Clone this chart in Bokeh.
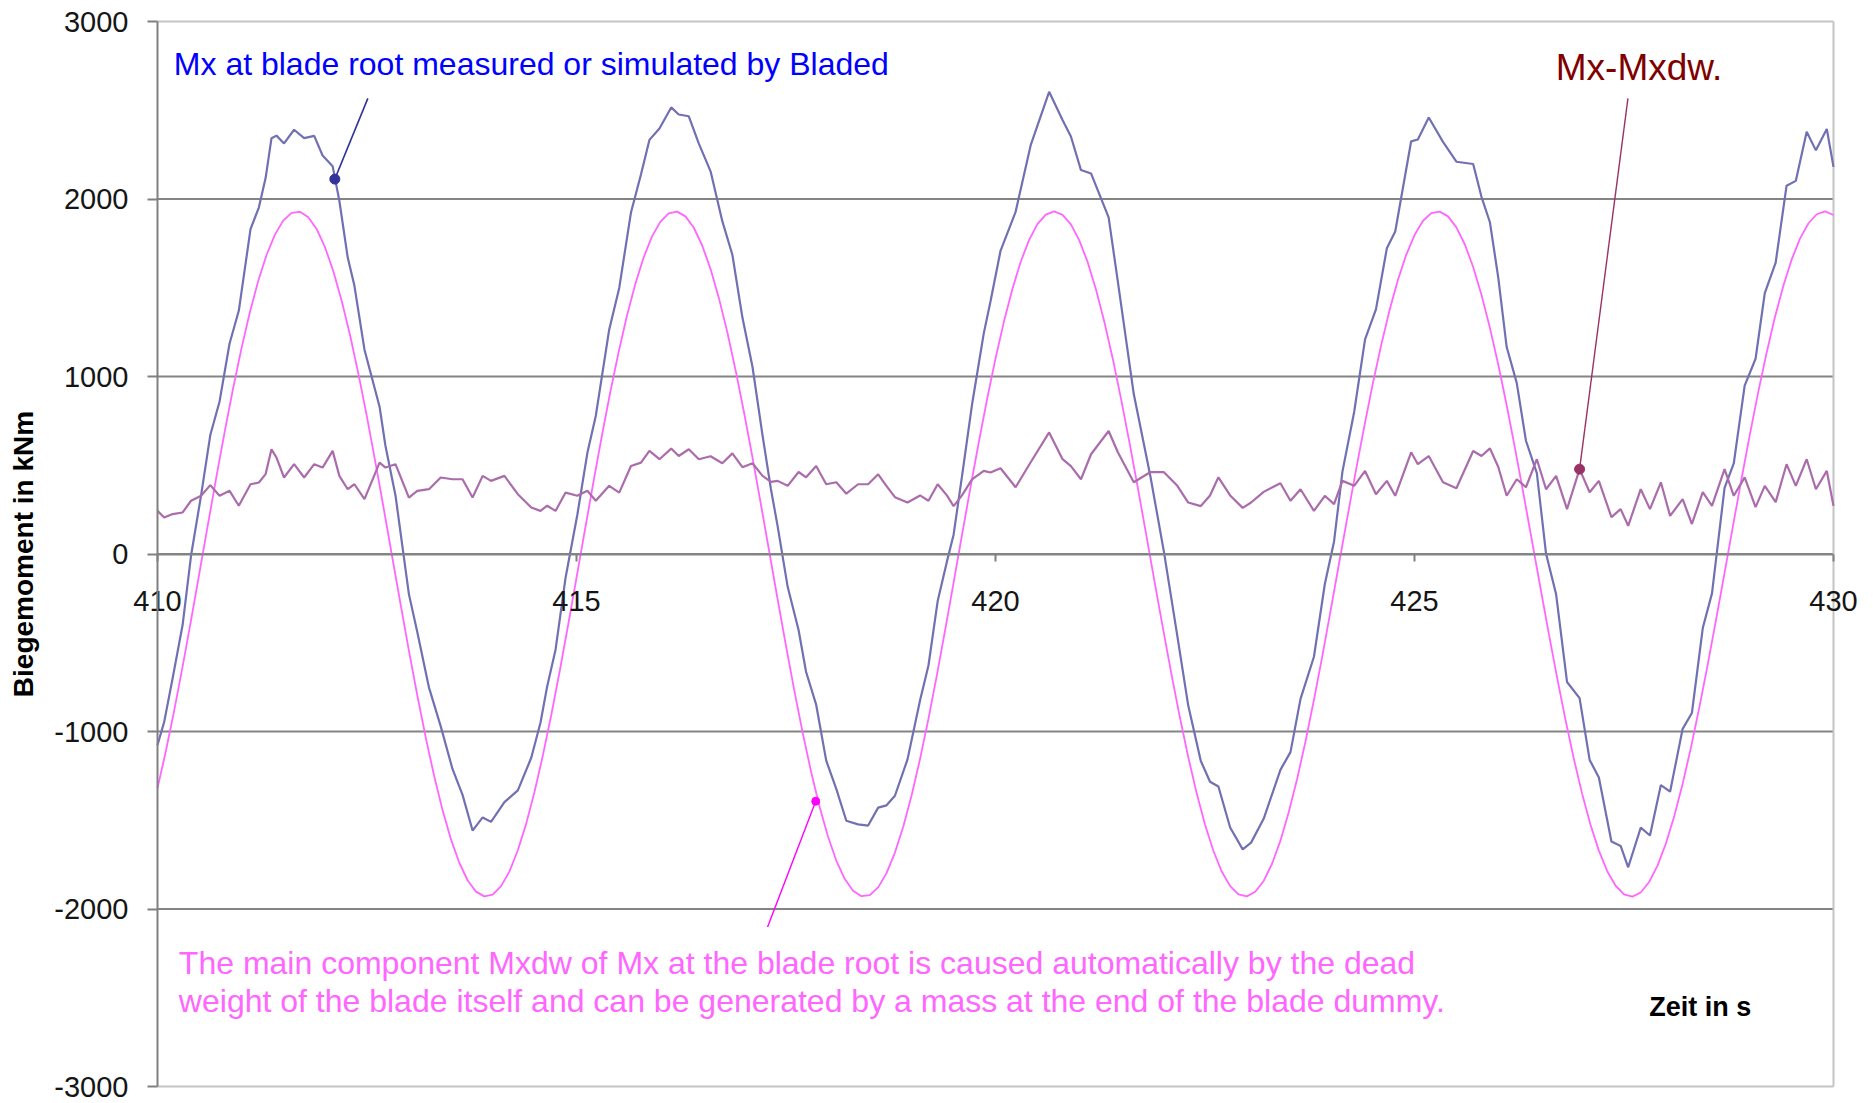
import math
from bokeh.plotting import figure
from bokeh.models import FixedTicker, Label, Range1d
from bokeh.embed import file_html
from bokeh.resources import INLINE

# ---------------- data ----------------
X_MIN, X_MAX = 410, 430
Y_MIN, Y_MAX = -3000, 3000
X_TICKS = [410, 415, 420, 425, 430]
Y_TICKS = [-3000, -2000, -1000, 0, 1000, 2000, 3000]
GRID_TICKS = [-2000, -1000, 0, 1000, 2000]

# Mxdw (dead-weight component), sampled every 0.1 s from 410 s
MXDW_T0 = 410.0
MXDW_DT = 0.1
mxdw = [
    -1319, -1110, -880, -633, -374, -107, 161, 427, 684, 928,
    1154, 1358, 1535, 1683, 1798, 1878, 1922, 1928, 1897, 1830,
    1727, 1590, 1423, 1228, 1009, 771, 518, 255, -14, -281,
    -544, -796, -1032, -1248, -1440, -1605, -1738, -1838, -1902, -1929,
    -1919, -1871, -1788, -1669, -1519, -1338, -1132, -904, -659, -400,
    -134, 134, 400, 659, 904, 1132, 1338, 1518, 1669, 1788,
    1871, 1919, 1929, 1902, 1838, 1738, 1605, 1440, 1249, 1032,
    796, 544, 281, 14, -255, -518, -771, -1009, -1228, -1423,
    -1590, -1727, -1830, -1897, -1928, -1922, -1878, -1798, -1682, -1535,
    -1358, -1154, -928, -684, -426, -161, 107, 371, 628, 873,
    1101, 1308, 1490, 1645, 1768, 1858, 1912, 1930, 1911, 1857,
    1767, 1644, 1489, 1306, 1099, 870, 625, 369, 105, -161,
    -423, -678, -920, -1144, -1347, -1524, -1672, -1789, -1871, -1918,
    -1929, -1903, -1842, -1745, -1615, -1454, -1266, -1054, -822, -575,
    -316, -52, 209, 468, 717, 954, 1172, 1369, 1541, 1684,
    1797, 1876, 1920, 1929, 1902, 1840, 1745, 1617, 1459, 1274,
    1066, 838, 594, 340, 79, -183, -442, -692, -930, -1151,
    -1350, -1525, -1671, -1787, -1869, -1917, -1930, -1907, -1848, -1756,
    -1631, -1476, -1294, -1088, -862, -620, -366, -106, 157, 417,
    668, 908, 1130, 1332, 1509, 1658, 1777, 1862, 1914, 1930, 1910,
]
mxdw_t = [round(MXDW_T0 + i * MXDW_DT, 2) for i in range(len(mxdw))]

# times of the readings of Mx and Mx-Mxdw
diff_t = [
    410.00, 410.08, 410.18, 410.30, 410.40, 410.52, 410.63, 410.74, 410.86, 410.97,
    411.11, 411.21, 411.29, 411.36, 411.42, 411.51, 411.63, 411.75, 411.87, 411.97,
    412.09, 412.17, 412.27, 412.35, 412.47, 412.65, 412.72, 412.84, 413.00, 413.10,
    413.24, 413.38, 413.52, 413.64, 413.76, 413.88, 413.98, 414.14, 414.30, 414.46,
    414.57, 414.65, 414.75, 414.87, 415.01, 415.13, 415.23, 415.39, 415.51, 415.65,
    415.77, 415.87, 415.99, 416.13, 416.22, 416.34, 416.46, 416.60, 416.74, 416.86,
    416.98, 417.10, 417.22, 417.32, 417.40, 417.52, 417.65, 417.74, 417.86, 417.98,
    418.10, 418.22, 418.36, 418.48, 418.60, 418.70, 418.80, 418.95, 419.10, 419.20,
    419.31, 419.42, 419.50, 419.60, 419.72, 419.86, 419.94, 420.06, 420.24, 420.42,
    420.64, 420.80, 420.90, 421.02, 421.14, 421.35, 421.46, 421.65, 421.85, 422.01,
    422.17, 422.30, 422.45, 422.56, 422.66, 422.80, 422.95, 423.05, 423.20, 423.40,
    423.52, 423.64, 423.80, 423.93, 424.04, 424.14, 424.28, 424.41, 424.54, 424.67,
    424.77, 424.96, 425.04, 425.17, 425.34, 425.50, 425.70, 425.80, 425.90, 426.00,
    426.10, 426.22, 426.33, 426.46, 426.57, 426.69, 426.82, 426.97, 427.09, 427.20,
    427.35, 427.46, 427.55, 427.70, 427.81, 427.94, 428.05, 428.20, 428.31, 428.44,
    428.55, 428.70, 428.81, 428.94, 429.07, 429.18, 429.31, 429.44, 429.55, 429.68,
    429.79, 429.92, 430.00,
]

# Mx - Mxdw
diff_v = [
    243, 206, 225, 234, 300, 328, 388, 328, 356, 272,
    393, 403, 450, 590, 543, 431, 506, 431, 506, 487,
    581, 440, 365, 393, 309, 515, 487, 506, 318, 356,
    365, 431, 421, 421, 318, 440, 412, 440, 337, 262,
    243, 272, 243, 346, 328, 356, 300, 384, 346, 496,
    515, 581, 534, 594, 552, 590, 534, 551, 511, 567,
    489, 511, 440, 406, 412, 384, 462, 432, 496, 393,
    404, 340, 393, 393, 449, 382, 320, 290, 330, 300,
    393, 330, 270, 330, 420, 468, 459, 483, 376, 517,
    685, 534, 495, 421, 562, 693, 573, 404, 462, 461,
    384, 290, 270, 330, 432, 330, 260, 290, 350, 399,
    300, 365, 243, 328, 281, 412, 384, 468, 337, 412,
    328, 573, 506, 552, 404, 370, 580, 552, 595, 490,
    328, 421, 376, 534, 365, 440, 253, 478, 348, 412,
    208, 253, 159, 365, 253, 404, 215, 309, 169, 348,
    271, 478, 328, 432, 264, 384, 292, 506, 384, 534,
    365, 468, 271,
]

# Mx at blade root
mx = [
    -1076, -946, -701, -399, -10, 330, 670, 858, 1186, 1370,
    1830, 1953, 2118, 2342, 2357, 2313, 2390, 2343, 2356, 2245,
    2185, 1990, 1670, 1511, 1151, 830, 610, 330, -226, -440,
    -753, -971, -1211, -1357, -1558, -1484, -1509, -1398, -1332, -1148,
    -951, -746, -539, -132, 221, 570, 778, 1264, 1499, 1924,
    2139, 2333, 2397, 2516, 2476, 2466, 2312, 2156, 1875, 1686,
    1332, 1055, 668, 366, 157, -185, -428, -665, -849, -1164,
    -1323, -1503, -1523, -1530, -1429, -1416, -1362, -1157, -824, -628,
    -265, -43, 109, 437, 842, 1243, 1423, 1708, 1928, 2303,
    2604, 2445, 2352, 2163, 2144, 1896, 1535, 901, 434, 12,
    -463, -854, -1166, -1283, -1310, -1541, -1664, -1626, -1492, -1216,
    -1116, -816, -579, -169, 71, 464, 800, 1209, 1378, 1722,
    1817, 2325, 2335, 2459, 2322, 2210, 2197, 2011, 1869, 1556,
    1166, 964, 638, 456, 1, -227, -721, -812, -1160, -1259,
    -1620, -1645, -1765, -1542, -1586, -1302, -1339, -985, -896, -417,
    -222, 372, 511, 949, 1100, 1470, 1642, 2075, 2102, 2379,
    2274, 2394, 2181,
]

# annotation anchor points (data coordinates)
mx_mark = (412.116, 2112)
mx_lead = (412.51, 2567)
diff_mark = (426.97, 478)
diff_lead = (427.547, 2567)
mxdw_mark = (417.855, -1393)
mxdw_lead = (417.28, -2101)

FONT = "Liberation Sans"

# ---------------- figure ----------------
# The frame covers the whole canvas; axes are placed at x=410 / y=0 so that
# nothing (tick labels, axis title) is clipped.
W, H = 1873, 1103
LEFT, TOP, PW, PH = 157, 21, 1676, 1065        # plot area in pixels
sx = (X_MAX - X_MIN) / PW
sy = (Y_MAX - Y_MIN) / PH
x_range = Range1d(X_MIN - LEFT * sx, X_MAX + (W - LEFT - PW) * sx)
y_range = Range1d(Y_MIN - (H - TOP - PH) * sy, Y_MAX + TOP * sy)

p = figure(width=W, height=H, x_range=x_range, y_range=y_range,
           output_backend="svg", toolbar_location=None,
           min_border=0, min_border_left=0, min_border_right=0,
           min_border_top=0, min_border_bottom=0)
p.background_fill_color = "white"
p.border_fill_color = "white"
p.outline_line_color = None
p.xgrid.visible = False
p.ygrid.visible = False

# horizontal grid lines limited to the plot area
p.segment(x0=[X_MIN] * len(GRID_TICKS), y0=GRID_TICKS,
          x1=[X_MAX] * len(GRID_TICKS), y1=GRID_TICKS,
          line_color="#848484", line_width=2)

# light border of the plot area (top, right, bottom)
p.segment(x0=[X_MIN, X_MAX, X_MIN], y0=[Y_MAX, Y_MIN, Y_MIN],
          x1=[X_MAX, X_MAX, X_MAX], y1=[Y_MAX, Y_MAX, Y_MIN],
          line_color="#c4c4c4", line_width=2)

# y axis at x = 410
ay = p.yaxis[0]
ay.fixed_location = X_MIN
ay.bounds = (Y_MIN, Y_MAX)
ay.ticker = FixedTicker(ticks=Y_TICKS)
ay.major_label_overrides = {v: str(v) for v in Y_TICKS}
ay.major_label_text_font = FONT
ay.major_label_text_font_size = "29px"
ay.major_label_text_color = "#151515"
ay.major_tick_out = 10
ay.major_tick_in = 0
ay.minor_tick_line_color = None
ay.major_tick_line_color = "#808080"
ay.major_tick_line_width = 2
ay.axis_line_color = "#808080"
ay.axis_line_width = 2
ay.major_label_standoff = 19

# x axis crossing at zero
ax = p.xaxis[0]
ax.fixed_location = 0
ax.bounds = (X_MIN, X_MAX)
ax.ticker = FixedTicker(ticks=X_TICKS)
ax.major_label_overrides = {v: str(v) for v in X_TICKS}
ax.major_label_text_font = FONT
ax.major_label_text_font_size = "29px"
ax.major_label_text_color = "#151515"
ax.major_tick_out = 7
ax.major_tick_in = 0
ax.minor_tick_line_color = None
ax.major_tick_line_color = "#808080"
ax.major_tick_line_width = 2
ax.axis_line_color = "#848484"
ax.axis_line_width = 2
ax.major_label_standoff = 30

# series
p.line(mxdw_t, mxdw, line_color="#ff66ff", line_width=1.8)
p.line(diff_t, mx, line_color="#7070b2", line_width=2.2)
p.line(diff_t, diff_v, line_color="#aa6caa", line_width=2.2)

# leaders and markers
p.segment(x0=[mx_lead[0]], y0=[mx_lead[1]], x1=[mx_mark[0]], y1=[mx_mark[1]],
          line_color="#333399", line_width=1.6)
p.scatter(x=[mx_mark[0]], y=[mx_mark[1]], size=10, color="#333399")
p.segment(x0=[diff_lead[0]], y0=[diff_lead[1]], x1=[diff_mark[0]], y1=[diff_mark[1]],
          line_color="#993366", line_width=1.4)
p.scatter(x=[diff_mark[0]], y=[diff_mark[1]], size=10, color="#993366")
p.segment(x0=[mxdw_lead[0]], y0=[mxdw_lead[1]], x1=[mxdw_mark[0]], y1=[mxdw_mark[1]],
          line_color="#ff00ff", line_width=1.4)
p.scatter(x=[mxdw_mark[0]], y=[mxdw_mark[1]], size=8, color="#ff00ff")

# texts
p.add_layout(Label(x=410.195, y=2759, text="Mx at blade root measured or simulated by Bladed",
                   text_font=FONT, text_font_size="32px", text_color="#0000ff",
                   text_baseline="alphabetic"))
p.add_layout(Label(x=426.686, y=2742, text="Mx-Mxdw.",
                   text_font=FONT, text_font_size="37px", text_color="#800000",
                   text_baseline="alphabetic"))
p.add_layout(Label(x=410.255, y=-2306,
                   text="The main component Mxdw of Mx at the blade root is caused automatically by the dead",
                   text_font=FONT, text_font_size="32px", text_color="#ff66ff",
                   text_baseline="alphabetic"))
p.add_layout(Label(x=410.255, y=-2519,
                   text="weight of the blade itself and can be generated by a mass at the end of the blade dummy.",
                   text_font=FONT, text_font_size="32px", text_color="#ff66ff",
                   text_baseline="alphabetic"))
p.add_layout(Label(x=427.80, y=-2551, text="Zeit in s",
                   text_font=FONT, text_font_size="27px", text_font_style="bold",
                   text_color="#000000", text_baseline="middle"))
p.add_layout(Label(x=X_MIN, y=0, x_offset=-134, text="Biegemoment in kNm",
                   angle=math.pi / 2, text_align="center", text_baseline="middle",
                   text_font=FONT, text_font_size="28px", text_font_style="bold",
                   text_color="#000000"))

open("out.html", "w").write(file_html(p, INLINE))
